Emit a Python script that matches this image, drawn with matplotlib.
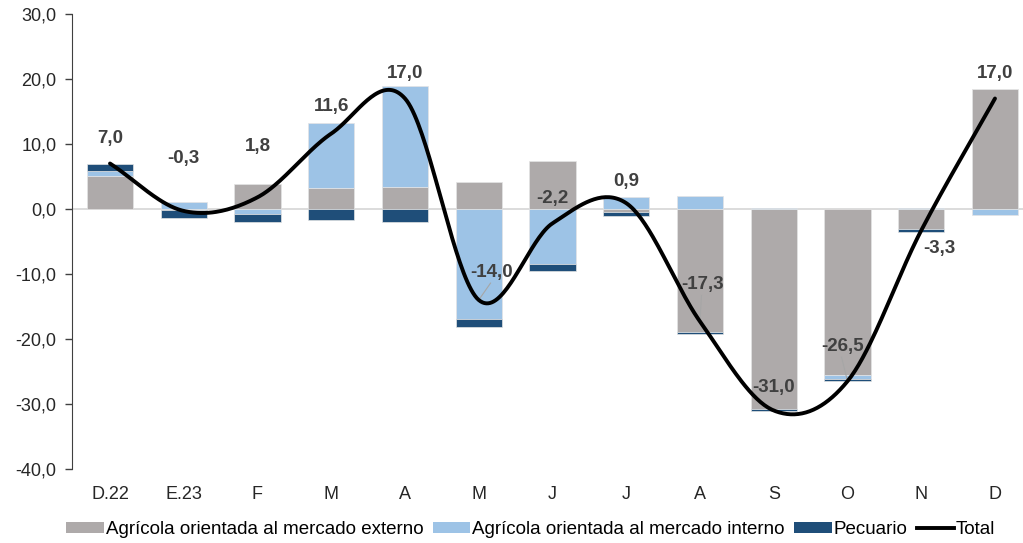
import numpy as np
import matplotlib

matplotlib.use("Agg")
import matplotlib.pyplot as plt
from matplotlib.patches import Patch
from matplotlib.lines import Line2D

plt.rcParams["font.family"] = ["Liberation Sans", "DejaVu Sans"]

# data
categories = ["D.22", "E.23", "F", "M", "A", "M", "J", "J", "A", "S", "O", "N", "D"]
externo = [5.1, -0.1, 3.8, 3.3, 3.4, 4.1, 7.4, -0.4, -18.9, -30.8, -25.6, -3.1, 18.4]
interno = [0.8, 1.1, -0.7, 10.0, 15.6, -16.9, -8.4, 1.9, 2.0, 0.1, -0.5, 0.2, -0.9]
pecuario = [1.1, -1.3, -1.3, -1.7, -2.0, -1.2, -1.2, -0.6, -0.4, -0.3, -0.4, -0.4, 0.0]
total = [7.0, -0.3, 1.8, 11.6, 17.0, -14.0, -2.2, 0.9, -17.3, -31.0, -26.5, -3.3, 17.0]

# label offsets from the point (dx, dy) and whether a leader line is drawn
label_off = [(0, 3.8), (0, 8.0), (0, 7.8), (0, 4.1), (0, 3.8), (0.18, 4.3), (0, 3.8),
             (0, 3.3), (0.04, 5.7), (0, 3.5), (-0.06, 5.4), (0.24, -2.8), (0, 3.8)]
leader = [False, False, False, False, False, True, False, False, True, False, True, False, False]

C_EXT = "#AEAAAA"
C_INT = "#9DC3E6"
C_PEC = "#1F4E79"
TXT = "#404040"

fig = plt.figure(figsize=(10.23, 5.43), dpi=100)
ax = fig.add_axes([0.0704, 0.1363, 0.9296, 0.8379])

x = np.arange(len(categories))
w = 0.63
pos = np.zeros(len(x))
neg = np.zeros(len(x))
for vals, col in [(externo, C_EXT), (interno, C_INT), (pecuario, C_PEC)]:
    v = np.array(vals)
    bottom = np.where(v >= 0, pos, neg)
    ax.bar(x, v, w, bottom=bottom, color=col, edgecolor="#E4E4E4", linewidth=0.5, zorder=2)
    pos = pos + np.where(v >= 0, v, 0)
    neg = neg + np.where(v < 0, v, 0)

ax.axhline(0, color="#D9D9D9", lw=1.3, zorder=1)

# smoothed total line (Catmull-Rom through the points)
y = np.array(total)
m = np.zeros(len(y))
m[1:-1] = (y[2:] - y[:-2]) / 2
m[0] = y[1] - y[0]
m[-1] = y[-1] - y[-2]
xs, ys = [], []
for i in range(len(y) - 1):
    t = np.linspace(0, 1, 40)
    h00 = 2 * t**3 - 3 * t**2 + 1
    h10 = t**3 - 2 * t**2 + t
    h01 = -2 * t**3 + 3 * t**2
    h11 = t**3 - t**2
    xs.extend(i + t)
    ys.extend(h00 * y[i] + h10 * m[i] + h01 * y[i + 1] + h11 * m[i + 1])
ax.plot(xs, ys, color="black", lw=2.8, zorder=4, solid_capstyle="round")

for i, v in enumerate(total):
    dx, dy = label_off[i]
    lx, ly = i + dx, v + dy
    ax.text(lx, ly, f"{v:.1f}".replace(".", ","), ha="center", va="center",
            fontsize=13.5, fontweight="bold", color=TXT, zorder=5)
    if leader[i]:
        ax.plot([lx - 0.02, i], [ly - 1.7, v], color="#A6A6A6", lw=0.8, zorder=3)

ax.set_ylim(-40, 30)
ax.set_yticks(np.arange(-40, 31, 10))
ax.set_yticklabels([f"{t:.1f}".replace(".", ",") for t in np.arange(-40, 31, 10)])
ax.set_xlim(-0.515, 12.38)
ax.set_xticks(x)
ax.set_xticklabels(categories)
ax.tick_params(axis="x", length=0, pad=12, labelsize=13, labelcolor="#262626")
ax.tick_params(axis="y", length=5, width=1, color="#404040", labelsize=13, labelcolor="#262626",
               direction="out", pad=6)
for s in ["top", "right", "bottom"]:
    ax.spines[s].set_visible(False)
ax.spines["left"].set_color("#404040")

handles = [
    Patch(facecolor=C_EXT, label="Agrícola orientada al mercado externo"),
    Patch(facecolor=C_INT, label="Agrícola orientada al mercado interno"),
    Patch(facecolor=C_PEC, label="Pecuario"),
    Line2D([0], [0], color="black", lw=2.8, label="Total"),
]
fig.legend(handles=handles, loc="center", bbox_to_anchor=(0.519, 0.025), ncol=4, frameon=False,
           fontsize=13.5, handlelength=2.0, handleheight=0.55, handletextpad=0.1, columnspacing=0.5)

fig.savefig("out.png", dpi=100)
